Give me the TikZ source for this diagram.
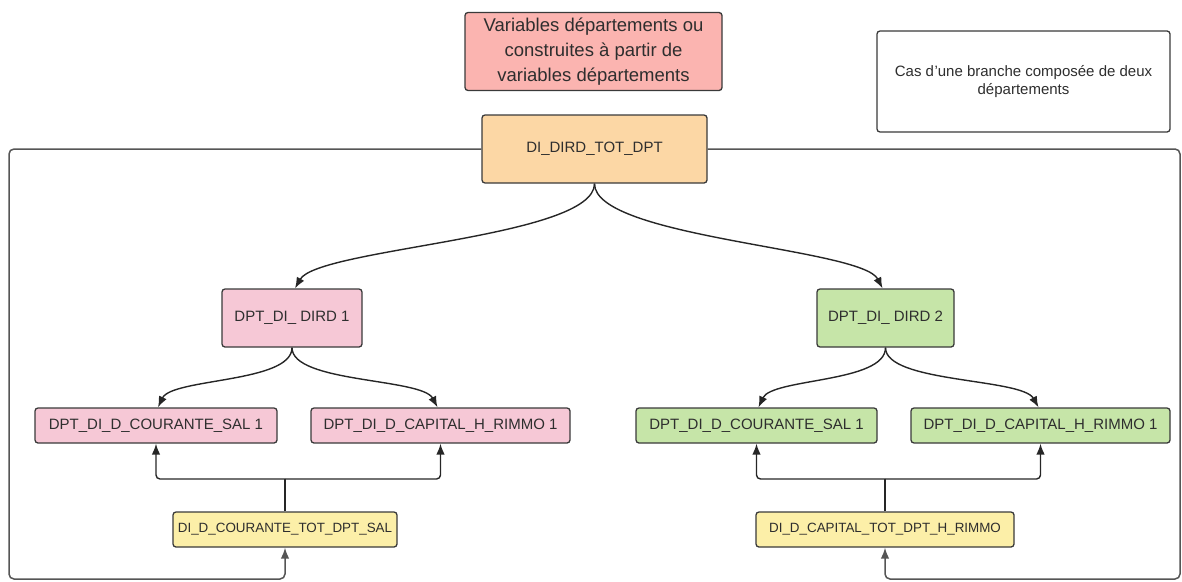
\documentclass[tikz,border=0pt]{standalone}
\usepackage{fontspec}
\setmainfont{Liberation Sans}
\usetikzlibrary{arrows.meta,calc}

\definecolor{edge}{HTML}{3A3A3A}
\definecolor{ink}{HTML}{2E2E2E}
\definecolor{framec}{HTML}{555555}
\definecolor{redfill}{HTML}{FBB4B0}
\definecolor{orangefill}{HTML}{FCD7A5}
\definecolor{pinkfill}{HTML}{F6C8D6}
\definecolor{greenfill}{HTML}{C6E5A8}
\definecolor{yellowfill}{HTML}{FCEFA8}

\begin{document}
\begin{tikzpicture}[x=1pt,y=-1pt,
  box/.style={draw=edge, line width=1.3pt, rounded corners=3pt, align=center,
              inner sep=0pt, text=ink, font=\fontsize{15}{18}\selectfont},
  smalltext/.style={font=\fontsize{13.4}{16}\selectfont},
  tip/.style={-{Latex[length=11pt,width=8.5pt]}},
  conn/.style={draw=black!85, line width=1.4pt, tip},
  framepath/.style={draw=framec, line width=1.5pt, rounded corners=5pt, tip}
]
\useasboundingbox (0,0) rectangle (1182,581);

% title boxes
\node[box, fill=redfill, minimum width=257pt, minimum height=78pt,
      font=\fontsize{18.5}{25}\selectfont] (hdr) at (593.5,51.5)
  {Variables départements ou\\construites à partir de\\variables départements};
\node[box, fill=white, minimum width=293pt, minimum height=101pt] (legend) at (1023.5,81.5)
  {Cas d\kern0.5pt\symbol{39}une branche composée de deux\\départements};

% total
\node[box, fill=orangefill, minimum width=225pt, minimum height=68pt] (top) at (594.5,149)
  {DI\_DIRD\_TOT\_DPT};

% departments
\node[box, fill=pinkfill, minimum width=140pt, minimum height=58pt] (d1) at (292,318)
  {DPT\_DI\_ DIRD 1};
\node[box, fill=greenfill, minimum width=137pt, minimum height=58pt] (d2) at (885.5,318)
  {DPT\_DI\_ DIRD 2};

% components
\node[box, fill=pinkfill, minimum width=242pt, minimum height=35pt] (c1) at (156,425.5)
  {DPT\_DI\_D\_COURANTE\_SAL 1};
\node[box, fill=pinkfill, minimum width=259pt, minimum height=35pt] (c2) at (440.5,425.5)
  {DPT\_DI\_D\_CAPITAL\_H\_RIMMO 1};
\node[box, fill=greenfill, minimum width=241pt, minimum height=35pt] (c3) at (756.5,425.5)
  {DPT\_DI\_D\_COURANTE\_SAL 1};
\node[box, fill=greenfill, minimum width=259pt, minimum height=35pt] (c4) at (1040.5,425.5)
  {DPT\_DI\_D\_CAPITAL\_H\_RIMMO 1};

% totals by type
\node[box, smalltext, fill=yellowfill, minimum width=224pt, minimum height=35pt] (y1) at (285,529.5)
  {DI\_D\_COURANTE\_TOT\_DPT\_SAL};
\node[box, smalltext, fill=yellowfill, minimum width=258pt, minimum height=35pt] (y2) at (885,529.5)
  {DI\_D\_CAPITAL\_TOT\_DPT\_H\_RIMMO};

% loop from the total down to the totals by type
\draw[framepath] (top.west) -| (9,579) -| (y1.south);
\draw[framepath] (top.east) -| (1180,579) -| (y2.south);

% split of the total
\draw[conn] (top.south) .. controls (594.5,238) and (318,248) .. ($(d1.north)+(3,0)$);
\draw[conn] (top.south) .. controls (594.5,238) and (862,248) .. ($(d2.north)+(-3,0)$);

% split of each department
\draw[conn] (d1.south) .. controls (292,383) and (172,378) .. ($(c1.north)+(2,0)$);
\draw[conn] (d1.south) .. controls (292,383) and (422,378) .. ($(c2.north)+(-3,0)$);
\draw[conn] (d2.south) .. controls (885.5,383) and (772,378) .. ($(c3.north)+(2,0)$);
\draw[conn] (d2.south) .. controls (885.5,383) and (1022,378) .. ($(c4.north)+(-2,0)$);

% buses from the totals by type
\coordinate (j1) at (285,479);
\coordinate (j2) at (885,479);
\draw[draw=black!85, line width=1.4pt] (y1.north) -- (j1);
\draw[draw=black!85, line width=1.4pt] (y2.north) -- (j2);
\draw[conn, rounded corners=4pt] (j1) -| (c1.south);
\draw[conn, rounded corners=4pt] (j1) -| (c2.south);
\draw[conn, rounded corners=4pt] (j2) -| (c3.south);
\draw[conn, rounded corners=4pt] (j2) -| (c4.south);
\end{tikzpicture}
\end{document}
